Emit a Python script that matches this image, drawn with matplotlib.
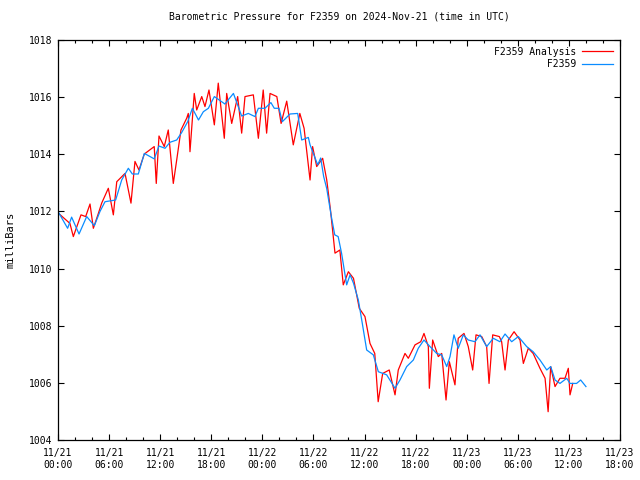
import numpy as np
import matplotlib
matplotlib.use("Agg")
import matplotlib.pyplot as plt
from matplotlib.ticker import MultipleLocator

# hours since 2024-11-21 00:00 UTC
station_hours = [0, 1.13, 1.6, 2.47, 3.37, 4.27, 4.93, 5.52, 6.77, 7.48, 8.26, 8.73, 9.43,
                 10.14, 11.3, 11.86, 12.57, 13.15, 13.94, 14.52, 15.23, 15.78, 16.5, 17.07,
                 17.66, 18.36, 19.6, 20.6, 21.57, 22.35, 23.13, 23.53, 24.3, 25.0, 25.4,
                 25.95, 26.34, 27.25, 28.15, 28.62, 29.4, 29.6, 30.5, 30.85, 31.2, 31.56,
                 32.1, 32.5, 32.9, 33.3, 33.9, 34.3, 34.7, 35.27, 35.67, 36.25, 37.03,
                 37.62, 38.6, 39.58, 40.16, 40.95, 41.73, 42.31, 42.98, 43.69, 44.47, 45.06,
                 45.65, 46.04, 46.5, 47.0, 47.6, 48.18, 48.97, 49.56, 50.34, 51.12, 51.9,
                 52.5, 53.28, 54.06, 55.04, 55.8, 56.6, 57.4, 57.86, 58.37, 58.95, 59.74,
                 60.13, 60.9, 61.38, 62.0]
station_mb = [1012.0, 1011.41, 1011.80, 1011.21, 1011.82, 1011.50, 1012.0, 1012.34, 1012.40,
              1013.10, 1013.51, 1013.31, 1013.31, 1014.03, 1013.84, 1014.29, 1014.21, 1014.42,
              1014.50, 1014.76, 1015.14, 1015.61, 1015.20, 1015.49, 1015.61, 1016.02, 1015.76,
              1016.13, 1015.34, 1015.43, 1015.32, 1015.61, 1015.61, 1015.81, 1015.61, 1015.61,
              1015.14, 1015.41, 1015.43, 1014.50, 1014.59, 1014.33, 1013.63, 1013.87, 1013.22,
              1012.80, 1011.82, 1011.18, 1011.12, 1010.54, 1009.43, 1009.78, 1009.49, 1008.90,
              1008.20, 1007.15, 1006.98, 1006.39, 1006.28, 1005.81, 1006.10, 1006.57, 1006.80,
              1007.21, 1007.50, 1007.27, 1007.03, 1006.98, 1006.57, 1006.92, 1007.68, 1007.21,
              1007.68, 1007.50, 1007.44, 1007.68, 1007.27, 1007.56, 1007.44, 1007.71, 1007.44,
              1007.62, 1007.27, 1007.09, 1006.80, 1006.45, 1006.57, 1006.10, 1005.98, 1006.16,
              1005.98, 1005.98, 1006.10, 1005.87]

analysis_hours = [0.0, 1.4, 1.8, 2.7, 3.25, 3.76, 4.15, 4.74, 5.13, 5.91, 6.5, 6.9, 7.87, 8.57,
                  9.04, 9.51, 9.9, 10.14, 11.3, 11.54, 11.86, 12.48, 12.95, 13.54, 13.94,
                  14.44, 15.11, 15.3, 15.5, 16.0, 16.29, 16.88, 17.26, 17.73, 18.36, 18.82,
                  19.53, 19.81, 20.4, 21.1, 21.57, 21.96, 22.94, 23.53, 24.1, 24.5, 24.9,
                  25.7, 26.2, 26.86, 27.63, 28.4, 28.9, 29.6, 29.9, 30.38, 31.08, 31.56, 32.0,
                  32.53, 33.1, 33.5, 34.1, 34.7, 35.38, 36.05, 36.64, 37.2, 37.6, 38.13, 38.9,
                  39.58, 39.96, 40.75, 41.14, 41.93, 42.6, 42.98, 43.49, 43.61, 44.0, 44.66,
                  45.06, 45.57, 45.96, 46.62, 47.0, 47.68, 48.18, 48.7, 49.09, 49.76, 50.34,
                  50.62, 51.05, 51.83, 52.1, 52.5, 52.89, 53.56, 54.26, 54.65, 55.23, 55.8,
                  56.6, 57.2, 57.56, 57.86, 58.37, 58.95, 59.54, 59.93, 60.13, 60.45]
analysis_mb = [1011.95, 1011.58, 1011.12, 1011.88, 1011.82, 1012.26, 1011.41, 1011.93, 1012.29,
               1012.81, 1011.88, 1013.04, 1013.33, 1012.29, 1013.75, 1013.45, 1013.80, 1014.01,
               1014.27, 1012.98, 1014.64, 1014.27, 1014.85, 1012.98, 1013.80, 1014.85, 1015.26,
               1015.43, 1014.09, 1016.13, 1015.55, 1016.02, 1015.67, 1016.25, 1015.03, 1016.49,
               1014.56, 1016.13, 1015.08, 1016.02, 1014.74, 1016.02, 1016.08, 1014.56, 1016.25,
               1014.74, 1016.13, 1016.02, 1015.08, 1015.86, 1014.33, 1015.43, 1014.91, 1013.10,
               1014.27, 1013.57, 1013.86, 1013.10, 1012.05, 1010.54, 1010.65, 1009.43, 1009.89,
               1009.66, 1008.61, 1008.32, 1007.38, 1007.03, 1005.34, 1006.33, 1006.45, 1005.58,
               1006.45, 1007.03, 1006.86, 1007.33, 1007.44, 1007.73, 1007.27, 1005.81, 1007.50,
               1006.92, 1007.03, 1005.40, 1006.74, 1005.93, 1007.56, 1007.73, 1007.27, 1006.45,
               1007.68, 1007.62, 1007.27, 1005.98, 1007.68, 1007.62, 1007.44, 1006.45, 1007.50,
               1007.79, 1007.50, 1006.68, 1007.21, 1007.03, 1006.51, 1006.16, 1004.99, 1006.57,
               1005.87, 1006.16, 1006.16, 1006.51, 1005.58, 1005.98]

tick_hours = [0, 6, 12, 18, 24, 30, 36, 42, 48, 54, 60, 66]
tick_labels = ["11/21\n00:00", "11/21\n06:00", "11/21\n12:00", "11/21\n18:00",
               "11/22\n00:00", "11/22\n06:00", "11/22\n12:00", "11/22\n18:00",
               "11/23\n00:00", "11/23\n06:00", "11/23\n12:00", "11/23\n18:00"]

plt.rcParams['font.family'] = 'DejaVu Sans Mono'
plt.rcParams['font.size'] = 7

fig = plt.figure(figsize=(6.4, 4.8), dpi=100)
ax = fig.add_axes([58 / 640, 40 / 480, 562 / 640, 400 / 480])

ax.plot(analysis_hours, analysis_mb, color='#ff0000', lw=0.9, label='F2359 Analysis')
ax.plot(station_hours, station_mb, color='#0a8cff', lw=0.9, label='         F2359')

ax.set_xlim(0, 66)
ax.set_ylim(1004, 1018)
ax.set_xticks(tick_hours)
ax.set_xticklabels(tick_labels)
ax.xaxis.set_minor_locator(MultipleLocator(2))
ax.yaxis.set_major_locator(MultipleLocator(2))
ax.tick_params(which='both', direction='in', top=True, right=True, width=0.8)
ax.tick_params(which='major', length=4.5, pad=4)
ax.tick_params(which='minor', length=2.5)
ax.tick_params(axis='x', pad=6)
for s in ax.spines.values():
    s.set_linewidth(0.9)

ax.set_title("Barometric Pressure for F2359 on 2024-Nov-21 (time in UTC)", fontsize=7, pad=15)
ax.set_ylabel("milliBars", fontsize=7.5, labelpad=10)

leg = ax.legend(loc='upper right', frameon=False, markerfirst=False,
                handlelength=3.2, handletextpad=0.6, labelspacing=0.25,
                borderaxespad=0.3)

fig.savefig("out.png", dpi=100)
